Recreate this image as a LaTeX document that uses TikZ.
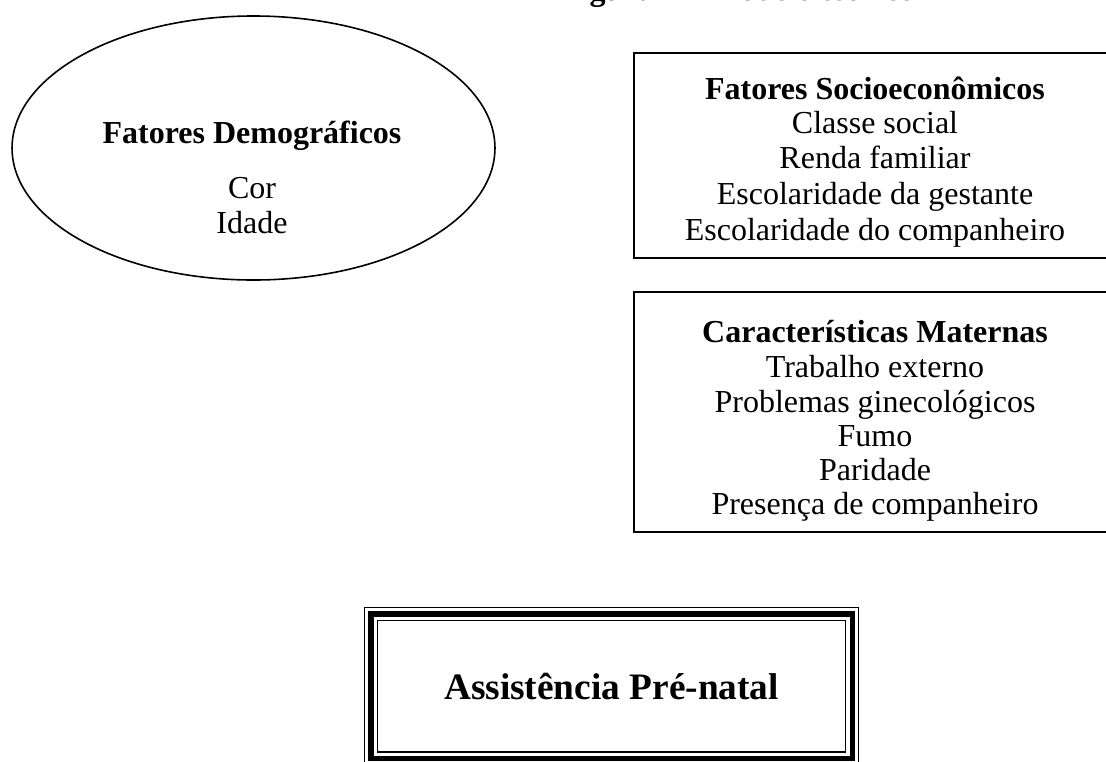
\documentclass[tikz,border=0pt]{standalone}
\usepackage{fontspec}
\setmainfont{Liberation Serif}
\usetikzlibrary{shapes.geometric}
\begin{document}
\begin{tikzpicture}
	[	x=0.375pt,y=-0.375pt,
	frame/.style={rectangle,draw=black,line width=0.75pt,inner sep=0pt,outer sep=0pt},
	oval/.style={ellipse,draw=black,line width=0.6pt,inner sep=0pt,outer sep=0pt},
	head/.style={font=\fontsize{12}{13.6}\selectfont\bfseries,anchor=base,inner sep=0pt},
	plain/.style={font=\fontsize{12}{13.6}\selectfont,anchor=base,inner sep=0pt},
	thinline/.style={draw=black,line width=0.55pt}
	]
	\useasboundingbox (0,0) rectangle (1106,761);

	% title, cut off at the top edge
	\node[head] (title) at (738,0.5){Figura 1 -- Modelo teórico};

	% demographic factors
	\node[oval,minimum width=181.1pt,minimum height=99pt] (demo) at (253.5,148){};
	\node[head] (demohead) at (252,143){Fatores Demográficos};
	\node[plain] (cor) at (252,198){Cor};
	\node[plain] (idade) at (252,233){Idade};

	% socioeconomic factors
	\node[frame,minimum width=180.75pt,minimum height=76.875pt] (socio) at (875,155.5){};
	\node[head] (sociohead) at (875,99){Fatores Socioeconômicos};
	\node[plain] (classe) at (875,133){Classe social};
	\node[plain] (renda) at (875,168){Renda familiar};
	\node[plain] (escgest) at (875,204){Escolaridade da gestante};
	\node[plain] (esccomp) at (875,240){Escolaridade do companheiro};

	% maternal characteristics
	\node[frame,minimum width=180.75pt,minimum height=90pt] (materna) at (875,412){};
	\node[head] (materhead) at (875,342){Características Maternas};
	\node[plain] (trabalho) at (875,377){Trabalho externo};
	\node[plain] (gineco) at (875,412){Problemas ginecológicos};
	\node[plain] (fumo) at (875,446){Fumo};
	\node[plain] (paridade) at (875,480){Paridade};
	\node[plain] (presenca) at (875,514){Presença de companheiro};

	% outcome, thin-thick-thin border
	\node[frame,line width=1.9pt,minimum width=180.4pt,minimum height=54.2pt,
		font=\fontsize{14}{16}\selectfont\bfseries] (prenatal) at (611.5,686.25){Assistência Pré-natal};
	\draw[thinline] ([shift={(-6.25,-6.25)}]prenatal.north west) rectangle ([shift={(6.25,6.25)}]prenatal.south east);
	\draw[thinline] ([shift={(6.5,6.5)}]prenatal.north west) rectangle ([shift={(-6.5,-6.5)}]prenatal.south east);
\end{tikzpicture}
\end{document}
